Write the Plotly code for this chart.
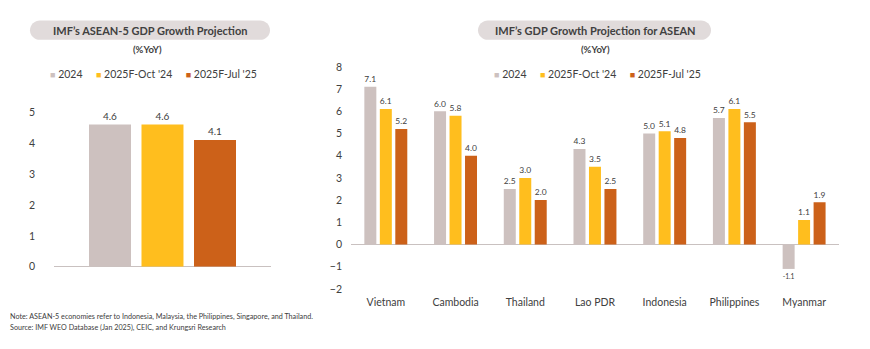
import plotly.graph_objects as go

# ---- data -------------------------------------------------------------
series_names = ["2024", "2025F-Oct '24", "2025F-Jul '25"]

asean5_category = ["ASEAN-5"]
asean5_2024 = [4.6]
asean5_oct24 = [4.6]
asean5_jul25 = [4.1]

countries = ["Vietnam", "Cambodia", "Thailand", "Lao PDR",
             "Indonesia", "Philippines", "Myanmar"]
growth_2024 = [7.1, 6.0, 2.5, 4.3, 5.0, 5.7, -1.1]
growth_oct24 = [6.1, 5.8, 3.0, 3.5, 5.1, 6.1, 1.1]
growth_jul25 = [5.2, 4.0, 2.0, 2.5, 4.8, 5.5, 1.9]

left_ticks = [0, 1, 2, 3, 4, 5]
right_ticks = [-2, -1, 0, 1, 2, 3, 4, 5, 6, 7, 8]

# ---- style ------------------------------------------------------------
W, H = 870, 349
COLORS = ["#CDC1BF", "#FFBE1E", "#CC6119"]
TEXT = "#404040"
FONT = "Lato"
PILL = "#E1DBDB"
AXIS = "#C9C1C0"


def px(x):
    return x / W


def py(y):
    return 1 - y / H


def pill_path(x0, y0, x1, y1):
    """Rounded capsule outline in paper coordinates from pixel bounds."""
    r = (y1 - y0) / 2
    k = 0.5523 * r
    pts = [
        ("M", [(x0 + r, y0)]),
        ("L", [(x1 - r, y0)]),
        ("C", [(x1 - r + k, y0), (x1, y0 + r - k), (x1, y0 + r)]),
        ("C", [(x1, y0 + r + k), (x1 - r + k, y1), (x1 - r, y1)]),
        ("L", [(x0 + r, y1)]),
        ("C", [(x0 + r - k, y1), (x0, y0 + r + k), (x0, y0 + r)]),
        ("C", [(x0, y0 + r - k), (x0 + r - k, y0), (x0 + r, y0)]),
    ]
    out = []
    for cmd, coords in pts:
        out.append(cmd + " ".join(f"{px(a):.5f},{py(b):.5f}" for a, b in coords))
    return " ".join(out) + " Z"


fig = go.Figure()

# Left panel: ASEAN-5 aggregate
left_w = 0.1935
left_offsets = [-0.3387, -0.0968, 0.1452]
for vals, name, col, off in zip([asean5_2024, asean5_oct24, asean5_jul25],
                                series_names, COLORS, left_offsets):
    fig.add_trace(go.Bar(
        x=asean5_category, y=vals, name=name, marker_color=col,
        marker_line_width=0, width=left_w, offset=off,
        texttemplate="%{y:.1f}", textposition="outside",
        textfont=dict(size=10, color=TEXT, family=FONT),
        cliponaxis=False, showlegend=False, xaxis="x", yaxis="y"))

# Right panel: individual ASEAN economies
right_w = 0.172
right_offsets = [-0.3085, -0.0865, 0.1355]
for vals, name, col, off in zip([growth_2024, growth_oct24, growth_jul25],
                                series_names, COLORS, right_offsets):
    fig.add_trace(go.Bar(
        x=countries, y=vals, name=name, marker_color=col,
        marker_line_width=0, width=right_w, offset=off,
        texttemplate="%{y:.1f}", textposition="outside",
        textfont=dict(size=10, color=TEXT, family=FONT),
        cliponaxis=False, showlegend=False, xaxis="x2", yaxis="y2"))

axis_common = dict(showgrid=False, showline=False, ticks="",
                   tickfont=dict(size=10.5, color=TEXT, family=FONT))

fig.update_layout(
    width=W, height=H,
    margin=dict(l=0, r=0, t=0, b=0),
    paper_bgcolor="white", plot_bgcolor="white",
    barmode="overlay",
    font=dict(family=FONT, color=TEXT),
    xaxis=dict(domain=[px(54), px(271)], type="category",
               showticklabels=False, **axis_common),
    yaxis=dict(domain=[py(270), py(90.8)], range=[0, 5.6],
               tickvals=left_ticks, zeroline=True, zerolinecolor=AXIS,
               zerolinewidth=1, ticklabelstandoff=18, **axis_common),
    xaxis2=dict(domain=[px(351), px(839)], type="category",
                anchor="y2", ticklabelstandoff=6, **axis_common),
    yaxis2=dict(domain=[py(293), py(63)], range=[-2, 8], anchor="x2",
                tickvals=right_ticks, zeroline=True, zerolinecolor=AXIS,
                zerolinewidth=1, ticklabelstandoff=8, **axis_common),
)

# Title capsules
fig.add_shape(type="path", xref="paper", yref="paper",
              path=pill_path(30, 15, 270, 35), fillcolor=PILL,
              line_width=0, layer="below")
fig.add_shape(type="path", xref="paper", yref="paper",
              path=pill_path(478, 15, 711, 35), fillcolor=PILL,
              line_width=0, layer="below")


def label(x, y, text, size, bold=False, xanchor="center"):
    fig.add_annotation(
        x=px(x), y=py(y), xref="paper", yref="paper", text=text,
        showarrow=False, xanchor=xanchor, yanchor="middle",
        font=dict(size=size, color=TEXT, family=FONT,
                  weight="bold" if bold else "normal"))


label(150, 25, "IMF’s ASEAN-5 GDP Growth Projection", 11, bold=True)
label(595, 25, "IMF’s GDP Growth Projection for ASEAN", 11, bold=True)
label(147, 45, "(%YoY)", 9.5, bold=True)
label(595, 45, "(%YoY)", 9.5, bold=True)

# Series keys
key = "&nbsp;&nbsp;&nbsp;&nbsp;&nbsp;".join(
    f"<span style='color:{c};font-size:9px'>■</span> {n}"
    for n, c in zip(series_names, COLORS))
label(153, 70, key, 10.5)
label(597, 70, key, 10.5)

# Footnote
label(8, 322, "Note: ASEAN-5 economies refer to Indonesia, Malaysia, the "
      "Philippines, Singapore, and Thailand.", 7.2, xanchor="left")
label(8, 333, "Source: IMF WEO Database (Jan 2025), CEIC, and Krungsri "
      "Research", 7.2, xanchor="left")

fig.write_html("out.html")
